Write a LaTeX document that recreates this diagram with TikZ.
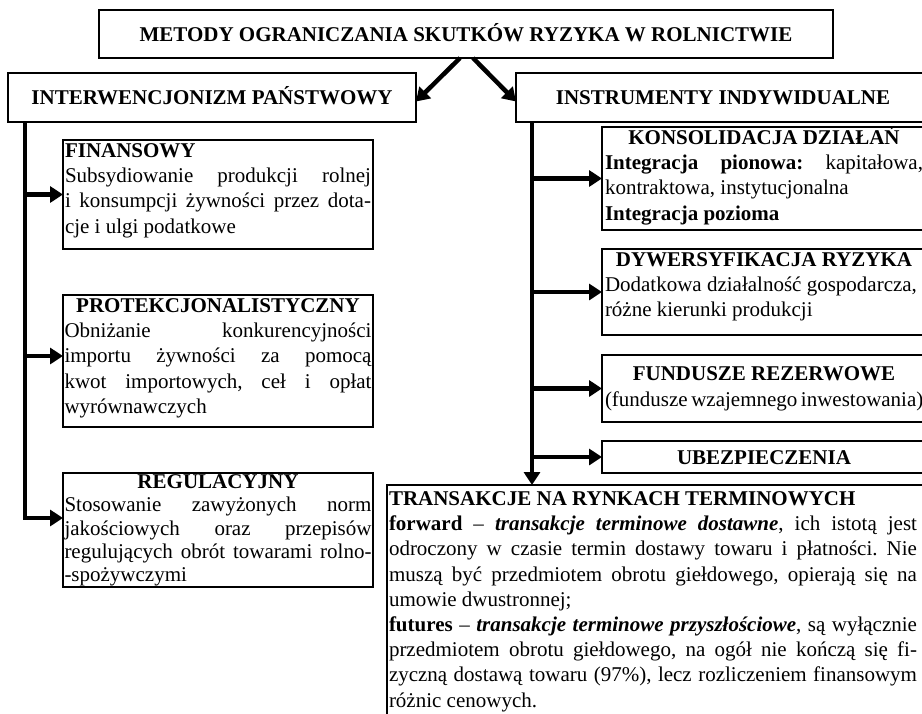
\documentclass[tikz,border=0pt]{standalone}
\usepackage{fontspec}
\setmainfont{Liberation Serif}
\usetikzlibrary{arrows.meta}
\frenchspacing
\newcommand\jl[1]{\hbox to\linewidth{#1}}
\newcommand\el[1]{\hbox to\linewidth{#1\hfil}}
\newcommand\cl[1]{\hbox to\linewidth{\hfil\rule{0pt}{14.5pt}\smash{#1}\hfil}}
\newcommand\hl[1]{\hbox to\linewidth{\rule{0pt}{14.5pt}\smash{#1}\hfil}}
\tikzset{
  txt/.style={font=\fontsize{21}{25.2}\selectfont},
  frame/.style={draw, line width=1.8pt, outer sep=0pt, txt},
  cbox/.style={frame, inner sep=3pt, anchor=north west},
  head/.style={frame, inner sep=0pt, font=\fontsize{21}{25.2}\selectfont\bfseries, text height=14pt, text depth=0pt},
  arr/.style={line width=4.5pt, -{Triangle[length=13pt,width=16pt]}},
}
\begin{document}
\begin{tikzpicture}[x=1pt,y=-1pt]
\useasboundingbox (0,0) rectangle (922,713);
% headings
\node[head, minimum width=734pt, minimum height=48pt] (top) at (466,34) {METODY OGRANICZANIA SKUTKÓW RYZYKA W ROLNICTWIE};
\node[head, minimum width=408pt, minimum height=49pt] (left) at (212,97.5) {INTERWENCJONIZM PAŃSTWOWY};
\node[head, minimum width=414pt, minimum height=49pt] (right) at (723,97.5) {INSTRUMENTY INDYWIDUALNE};
% left boxes
\node[cbox, inner xsep=2pt] (fin) at (63,140) {\parbox[t][103pt][t]{306pt}{%
  \hl{\bfseries FINANSOWY}
  \jl{Subsydiowanie produkcji rolnej}
  \jl{i konsumpcji żywności przez dota-}
  \el{cje i ulgi podatkowe}}};
\node[cbox, inner xsep=1.5pt] (pro) at (63,295) {\parbox[t][126pt][t]{307pt}{%
  \cl{\bfseries PROTEKCJONALISTYCZNY}
  \jl{Obniżanie konkurencyjności}
  \jl{importu żywności za pomocą}
  \jl{kwot importowych, ceł i opłat}
  \el{wyrównawczych}}};
\node[cbox, inner xsep=1.5pt, inner ysep=1pt] (reg) at (63,473) {\parbox[t][112pt][t]{307pt}{%
  \fontsize{21}{23.3}\selectfont
  \cl{\bfseries REGULACYJNY}
  \jl{Stosowanie zawyżonych norm}
  \jl{jakościowych oraz przepisów}
  \jl{regulujących obrót towarami rolno-}
  \el{-spożywczymi}}};
% right boxes
\node[cbox, inner xsep=3pt] (kons) at (602,127) {\parbox[t][97pt][t]{318pt}{%
  \cl{\bfseries KONSOLIDACJA DZIAŁAŃ}
  \jl{\textbf{Integracja pionowa:} kapitałowa,}
  \el{kontraktowa, instytucjonalna}
  \el{\bfseries Integracja pozioma}}};
\node[cbox, inner xsep=3pt] (dyw) at (602,249) {\parbox[t][80pt][t]{318pt}{%
  \cl{\bfseries DYWERSYFIKACJA RYZYKA}
  \el{Dodatkowa działalność gospodarcza,}
  \el{różne kierunki produkcji}}};
\node[cbox, inner xsep=3pt] (fund) at (602,355) {\parbox[t][61pt][c]{318pt}{%
  \cl{\bfseries FUNDUSZE REZERWOWE}
  \el{(fundusze wzajemnego inwestowania)}}};
\node[cbox, inner xsep=3pt] (ubez) at (602,441) {\parbox[t][26pt][c]{318pt}{%
  \cl{\bfseries UBEZPIECZENIA}}};
\node[cbox, inner xsep=2pt, inner ysep=6pt] (trans) at (387,485) {\parbox[t][240pt][t]{528pt}{%
  \hl{\bfseries TRANSAKCJE NA RYNKACH TERMINOWYCH}
  \jl{\textbf{forward} – \textbf{\textit{transakcje terminowe dostawne}}, ich istotą jest}
  \jl{odroczony w czasie termin dostawy towaru i płatności. Nie}
  \jl{muszą być przedmiotem obrotu giełdowego, opierają się na}
  \el{umowie dwustronnej;}
  \jl{\textbf{futures} – \textbf{\textit{transakcje terminowe przyszłościowe}}, są wyłącznie}
  \jl{przedmiotem obrotu giełdowego, na ogół nie kończą się fi-}
  \jl{zyczną dostawą towaru (97\%), lecz rozliczeniem finansowym}
  \el{różnic cenowych.}}\hspace*{9pt}};
% connectors
\draw[arr] ([xshift=-6pt]top.south) -- ([yshift=-4pt]left.east);
\draw[arr] ([xshift=7pt]top.south) -- ([yshift=-4pt]right.west);
\coordinate (spL) at ([xshift=17pt]left.south west);
\coordinate (spR) at ([xshift=16pt]right.south west);
\coordinate (proA) at ([yshift=5pt]pro.west);
\coordinate (regA) at ([yshift=12pt]reg.west);
\draw[arr] (spL) |- (regA);
\draw[arr] (spL |- fin.west) -- (fin.west);
\draw[arr] (spL |- proA) -- (proA);
\draw[arr] (spR) -- (spR |- trans.north);
\draw[arr] (spR |- kons.west) -- (kons.west);
\draw[arr] (spR |- dyw.west) -- (dyw.west);
\draw[arr] (spR |- fund.west) -- (fund.west);
\draw[arr] (spR |- ubez.west) -- (ubez.west);
\end{tikzpicture}
\end{document}
